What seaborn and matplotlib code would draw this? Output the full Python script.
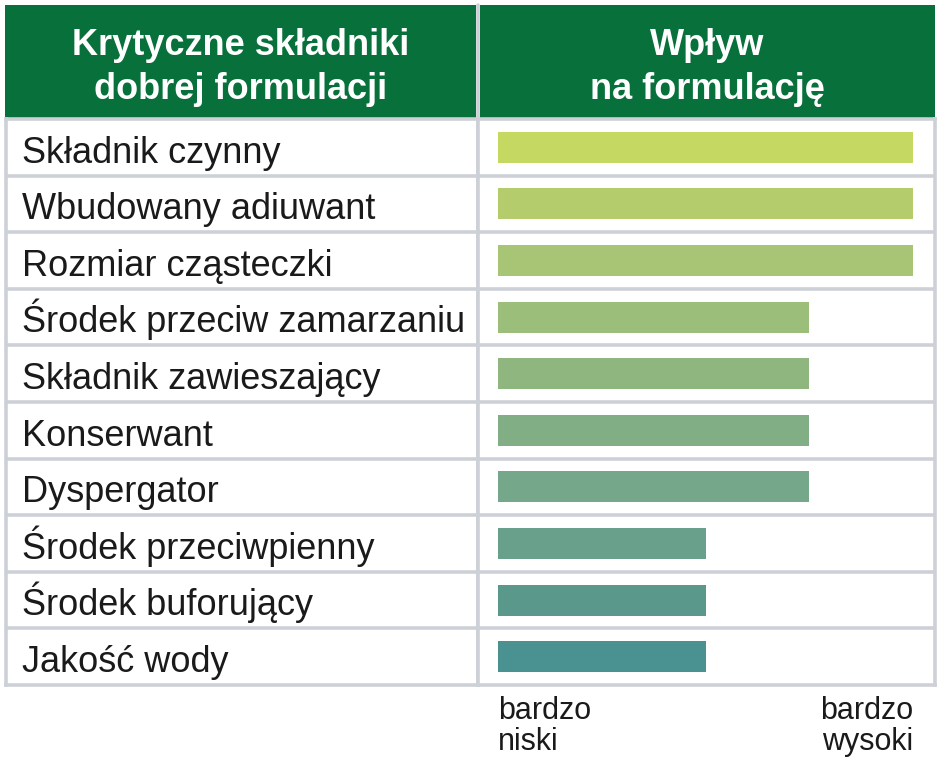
import matplotlib
matplotlib.use('Agg')
import matplotlib.pyplot as plt
from matplotlib.lines import Line2D
import seaborn as sns
import pandas as pd

# --- data ---
categories = ['Składnik czynny', 'Wbudowany adiuwant', 'Rozmiar cząsteczki',
              'Środek przeciw zamarzaniu', 'Składnik zawieszający', 'Konserwant',
              'Dyspergator', 'Środek przeciwpienny', 'Środek buforujący', 'Jakość wody']
impact = [4, 4, 4, 3, 3, 3, 3, 2, 2, 2]
bar_colors = ['#c5d862', '#b5cc6d', '#a8c575', '#9cbe7b', '#8fb67f',
              '#82ae85', '#75a88a', '#68a08b', '#5a988c', '#4a9292']
header_left = 'Krytyczne składniki\ndobrej formulacji'
header_right = 'Wpływ\nna formulację'
scale_low = 'bardzo\nniski'
scale_high = 'bardzo\nwysoki'

GREEN = '#08703a'
GRID = '#cdd0d6'
W, H = 940, 775

df = pd.DataFrame({'skladnik': categories, 'wplyw': impact})

sns.set_theme(style='white')
plt.rcParams['font.family'] = ['Liberation Sans', 'DejaVu Sans']

fig = plt.figure(figsize=(9.4, 7.75), dpi=100)
fig.patch.set_facecolor('white')


def box(x0, y0, x1, y1):
    # pixel box (top-left origin) -> figure fraction rect
    return [x0 / W, 1 - y1 / H, (x1 - x0) / W, (y1 - y0) / H]


# --- header cells ---
for rect, txt in [(box(5, 5, 476, 118), header_left), (box(480, 5, 935, 118), header_right)]:
    hx = fig.add_axes(rect)
    hx.set_facecolor(GREEN)
    hx.set_xticks([]); hx.set_yticks([])
    for s in hx.spines.values():
        s.set_visible(False)
    hx.text(0.5, 0.45, txt, ha='center', va='center', color='white',
            fontsize=26, fontweight='bold', linespacing=1.33, transform=hx.transAxes)

fig.add_artist(Line2D([478 / W, 478 / W], [1 - 5 / H, 1 - 119 / H],
                      color=GRID, lw=2.6, transform=fig.transFigure))

# --- body: left column (names) and right column (bars) ---
ax_l = fig.add_axes(box(6, 119, 478, 685))
ax_r = fig.add_axes(box(478, 119, 935, 685))

sns.barplot(data=df, x='wplyw', y='skladnik', hue='skladnik', palette=bar_colors,
            saturation=1, legend=False, orient='h', width=0.55, linewidth=0, ax=ax_r)

px_unit = (913 - 498) / 4
ax_r.set_xlim(-20 / px_unit, 4 + 22 / px_unit)

n = len(categories)
for ax in (ax_l, ax_r):
    ax.set_ylim(n - 0.5, -0.5)
    ax.set_xticks([]); ax.set_yticks([])
    ax.set_xlabel(''); ax.set_ylabel('')
    ax.set_facecolor('white')
    for s in ax.spines.values():
        s.set_visible(True)
        s.set_color(GRID)
        s.set_linewidth(2.6)
    for i in range(n - 1):
        ax.axhline(i + 0.5, color=GRID, lw=2.6)

ax_l.set_xlim(0, 1)
for i, name in enumerate(categories):
    ax_l.text(16 / 472, i + 0.27, name, ha='left', va='baseline',
              fontsize=26, color='#1a1a1a')

# scale labels under the bars
ax_r.text(0, -0.02, scale_low, ha='left', va='top', fontsize=22, color='#1a1a1a',
          linespacing=1.05, transform=ax_r.get_xaxis_transform())
ax_r.text(4, -0.02, scale_high, ha='right', va='top', fontsize=22, color='#1a1a1a',
          linespacing=1.05, transform=ax_r.get_xaxis_transform())

fig.savefig('out.png', dpi=100, facecolor='white')
